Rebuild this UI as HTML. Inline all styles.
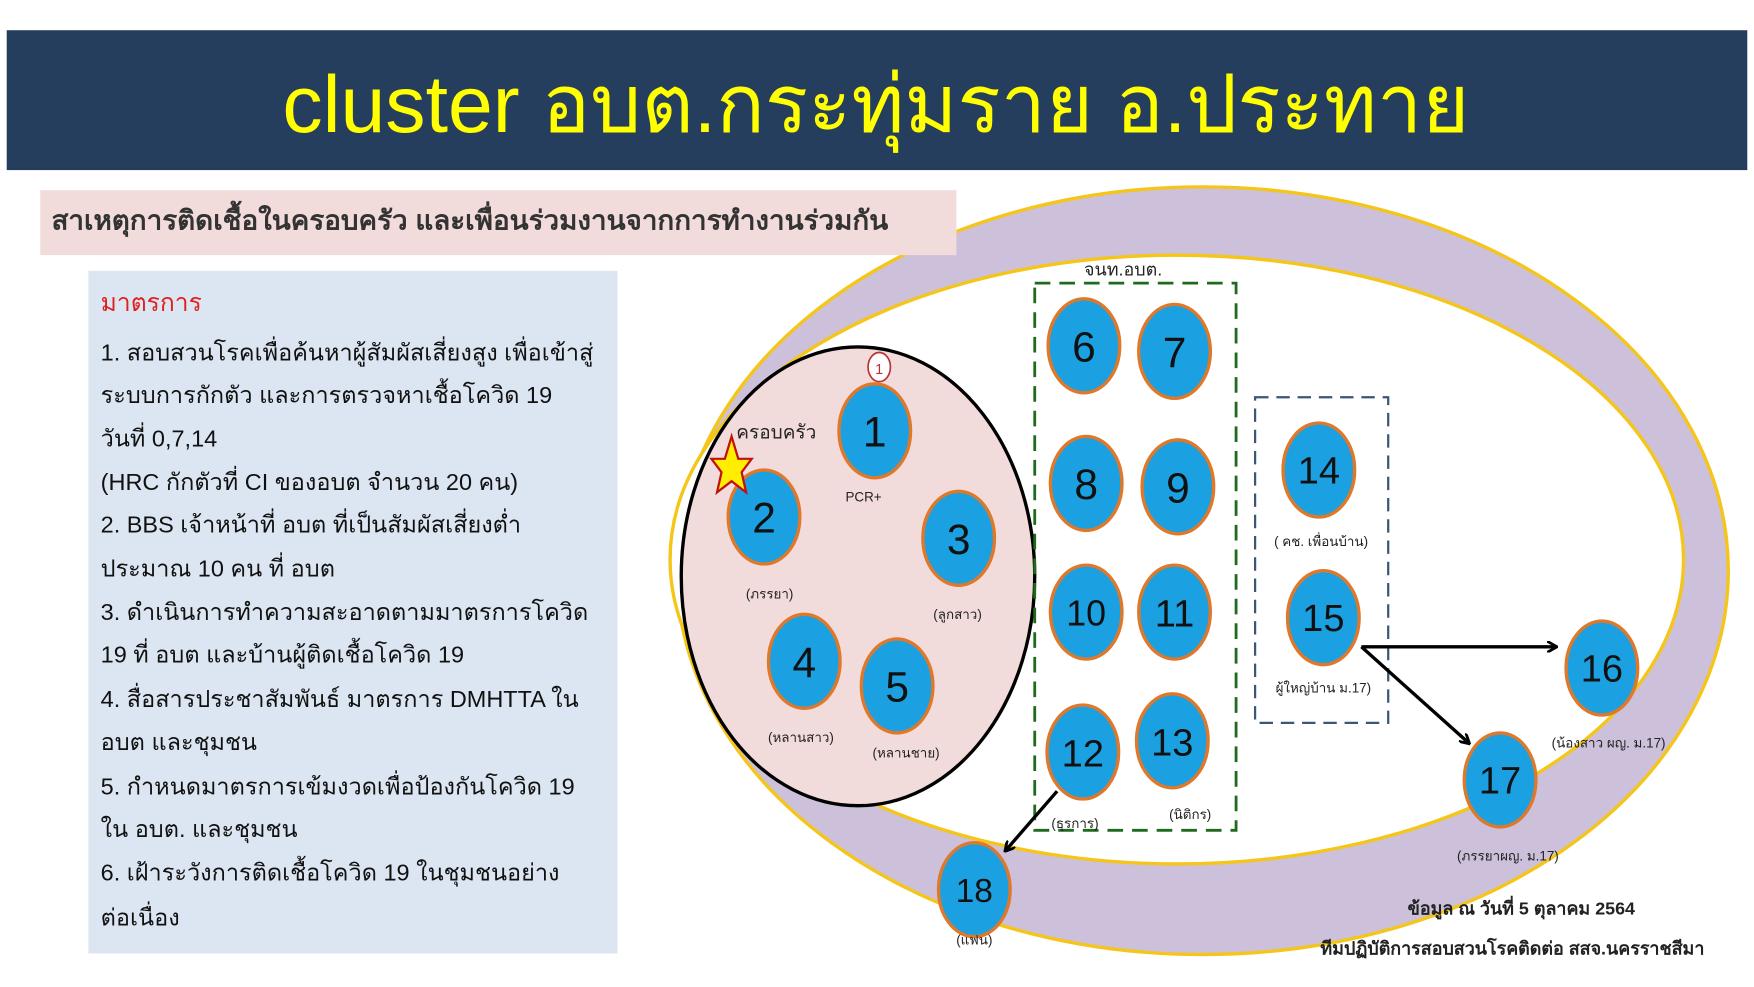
<!DOCTYPE html>
<html><head><meta charset="utf-8"><style>
html,body{margin:0;padding:0;background:#fff;}
svg{display:block}
text{font-family:"Liberation Sans","Noto Sans CJK SC",sans-serif;}
</style></head><body>
<svg width="1754" height="987" viewBox="0 0 1568 882" preserveAspectRatio="none" xmlns="http://www.w3.org/2000/svg">
<defs>
<marker id="ah" markerWidth="10" markerHeight="10" refX="8" refY="5" orient="auto" markerUnits="userSpaceOnUse"><path d="M0,0 L9,5 L0,10" fill="none" stroke="#000" stroke-width="2.5"/></marker>
</defs>
<rect x="0" y="0" width="1568" height="882" fill="#fff"/>
<rect x="6" y="27" width="1556" height="125" fill="#263e5e"/>
<text x="783" y="118" font-size="72" fill="#ffff00" text-anchor="middle">cluster อบต.กระทุ่มราย อ.ประทาย</text>

<ellipse cx="1075" cy="510" rx="470" ry="343" fill="#ccc0da" stroke="#f5c518" stroke-width="3"/>
<rect x="36" y="170" width="819" height="58" fill="#f2dcdb"/>
<text x="46" y="205" font-size="24" font-weight="bold" fill="#333" textLength="748" lengthAdjust="spacingAndGlyphs">สาเหตุการติดเชื้อในครอบครัว และเพื่อนร่วมงานจากการทำงานร่วมกัน</text>

<rect x="79" y="242" width="473" height="610" fill="#dce6f2"/>
<g font-size="21" fill="#111">
<text x="90" y="278" fill="#e02020" font-size="22">มาตรการ</text>
<text x="90" y="322">1. สอบสวนโรคเพื่อค้นหาผู้สัมผัสเสี่ยงสูง เพื่อเข้าสู่</text>
<text x="90" y="360">ระบบการกักตัว  และการตรวจหาเชื้อโควิด 19</text>
<text x="90" y="399">วันที่ 0,7,14</text>
<text x="90" y="438">(HRC  กักตัวที่ CI ของอบต จำนวน 20 คน)</text>
<text x="90" y="476">2.  BBS เจ้าหน้าที่ อบต ที่เป็นสัมผัสเสี่ยงต่ำ</text>
<text x="90" y="515">ประมาณ 10 คน ที่ อบต</text>
<text x="90" y="554">3. ดำเนินการทำความสะอาดตามมาตรการโควิด</text>
<text x="90" y="592">19 ที่ อบต และบ้านผู้ติดเชื้อโควิด 19</text>
<text x="90" y="632">4. สื่อสารประชาสัมพันธ์ มาตรการ DMHTTA ใน</text>
<text x="90" y="670">อบต และชุมชน</text>
<text x="90" y="710">5. กำหนดมาตรการเข้มงวดเพื่อป้องกันโควิด 19</text>
<text x="90" y="748">ใน อบต.  และชุมชน</text>
<text x="90" y="787">6. เฝ้าระวังการติดเชื้อโควิด 19 ในชุมชนอย่าง</text>
<text x="90" y="827">ต่อเนื่อง</text>
</g>

<ellipse cx="1052" cy="500" rx="453" ry="272" fill="#fff" stroke="#f5c518" stroke-width="3"/>
<ellipse cx="767" cy="515" rx="158" ry="205" fill="#f2dcdb" stroke="#000" stroke-width="3"/>

<rect x="925" y="253" width="180" height="489" fill="none" stroke="#1e6b1e" stroke-width="2.5" stroke-dasharray="14,8"/>
<text x="1004" y="246" font-size="16" text-anchor="middle" fill="#222">จนท.อบต.</text>
<rect x="1122" y="355" width="119" height="291" fill="none" stroke="#3b5676" stroke-width="2" stroke-dasharray="12,7"/>

<line x1="1217" y1="578" x2="1391" y2="578" stroke="#000" stroke-width="3" marker-end="url(#ah)"/>
<line x1="1217" y1="578" x2="1313" y2="664" stroke="#000" stroke-width="3" marker-end="url(#ah)"/>
<line x1="945" y1="707" x2="899" y2="760" stroke="#000" stroke-width="3" marker-end="url(#ah)"/>

<g fill="#1ba1e2" stroke="#e0782a" stroke-width="3">
<ellipse cx="782" cy="385" rx="32" ry="42"/>
<ellipse cx="683" cy="462" rx="32" ry="42"/>
<ellipse cx="857" cy="481" rx="32" ry="42"/>
<ellipse cx="719" cy="591" rx="32" ry="42"/>
<ellipse cx="802" cy="613" rx="32" ry="42"/>
<ellipse cx="969" cy="309" rx="32" ry="42"/>
<ellipse cx="1050" cy="314" rx="32" ry="42"/>
<ellipse cx="971" cy="432" rx="32" ry="42"/>
<ellipse cx="1053" cy="435" rx="32" ry="42"/>
<ellipse cx="971" cy="547" rx="32" ry="42"/>
<ellipse cx="1050" cy="547" rx="32" ry="42"/>
<ellipse cx="968" cy="672" rx="32" ry="42"/>
<ellipse cx="1048" cy="662" rx="32" ry="42"/>
<ellipse cx="1179" cy="420" rx="32" ry="42"/>
<ellipse cx="1183" cy="552" rx="32" ry="42"/>
<ellipse cx="1432" cy="597" rx="32" ry="42"/>
<ellipse cx="1341" cy="697" rx="32" ry="42"/>
<ellipse cx="871" cy="795" rx="32" ry="42"/>
</g>
<g font-size="38" fill="#111" text-anchor="middle">
<text x="782" y="399">1</text><text x="683" y="476">2</text><text x="857" y="495">3</text>
<text x="719" y="605">4</text><text x="802" y="627">5</text><text x="969" y="323">6</text>
<text x="1050" y="328">7</text><text x="971" y="446">8</text><text x="1053" y="449">9</text>
<text x="971" y="559" font-size="32">10</text><text x="1050" y="560" font-size="34">11</text>
<text x="968" y="685" font-size="34">12</text><text x="1048" y="675" font-size="34">13</text>
<text x="1179" y="432" font-size="34">14</text><text x="1183" y="564" font-size="34">15</text>
<text x="1432" y="609" font-size="34">16</text><text x="1341" y="709" font-size="34">17</text>
<text x="871" y="806" font-size="30">18</text>
</g>

<polygon points="654,390 660,410 672,410 663,422 667,440 654,430 641,440 645,422 636,410 648,410" fill="#ffee00" stroke="#c01010" stroke-width="2"/>
<ellipse cx="786" cy="328" rx="10" ry="13" fill="#fff" stroke="#c03030" stroke-width="1.5"/>
<text x="786" y="334" font-size="13" fill="#c03030" text-anchor="middle">1</text>
<text x="694" y="392" font-size="17" text-anchor="middle" fill="#222">ครอบครัว</text>

<g font-size="12" fill="#222" text-anchor="middle">
<text x="772" y="448">PCR+</text>
<text x="688" y="535">(ภรรยา)</text>
<text x="856" y="553">(ลูกสาว)</text>
<text x="716" y="663">(หลานสาว)</text>
<text x="810" y="677">(หลานชาย)</text>
<text x="961" y="740">(ธุรการ)</text>
<text x="1064" y="732">(นิติกร)</text>
<text x="1181" y="488">( คช. เพื่อนบ้าน)</text>
<text x="1183" y="619">ผู้ใหญ่บ้าน ม.17)</text>
<text x="1438" y="668">(น้องสาว ผญ. ม.17)</text>
<text x="1348" y="769">(ภรรยาผญ. ม.17)</text>
<text x="871" y="844">(แฟน)</text>
</g>
<text x="1360" y="817" font-size="16" font-weight="bold" text-anchor="middle" fill="#222">ข้อมูล ณ วันที่ 5 ตุลาคม 2564</text>
<text x="1352" y="853" font-size="16" font-weight="bold" text-anchor="middle" fill="#222">ทีมปฏิบัติการสอบสวนโรคติดต่อ สสจ.นครราชสีมา</text>
</svg>
</body></html>
